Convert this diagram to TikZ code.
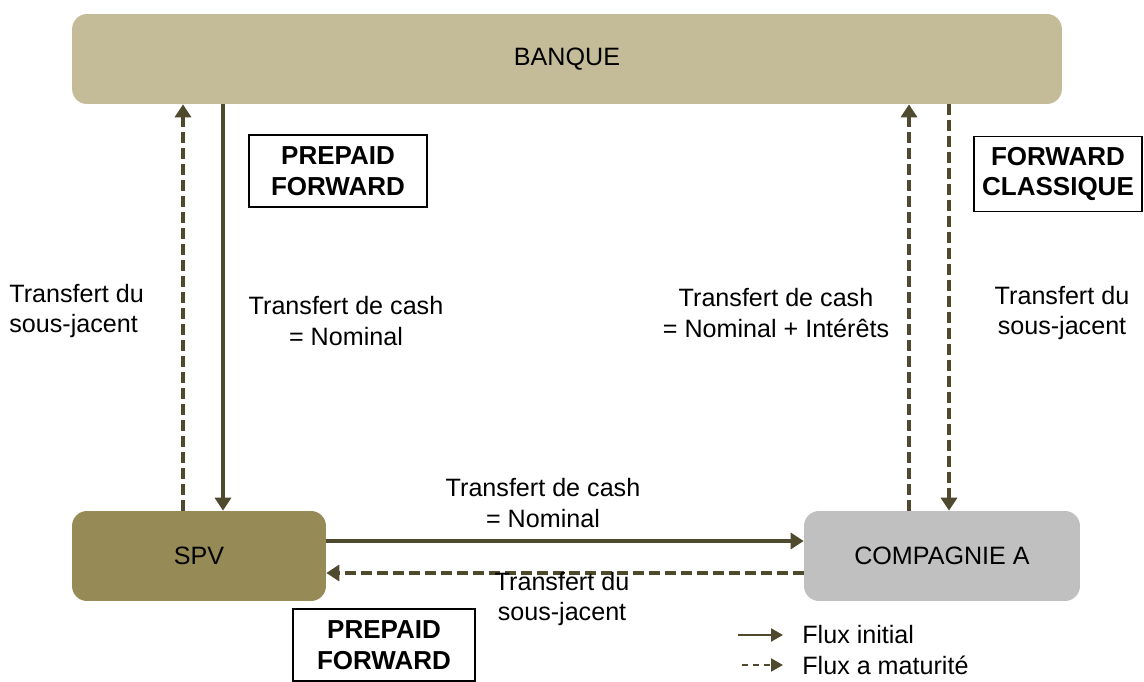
\documentclass[tikz,border=0pt]{standalone}
\usepackage{fontspec}
\setmainfont{Liberation Sans}
\usetikzlibrary{arrows.meta,positioning,calc}
\definecolor{banquecol}{RGB}{196,188,152}
\definecolor{spvcol}{RGB}{150,138,86}
\definecolor{ciecol}{RGB}{192,192,192}
\definecolor{flux}{RGB}{79,74,46}
\tikzstyle{every node}+=[font=\fontsize{14.3}{17.2}\selectfont]
\tikzstyle{party}=[rounded corners=0.3cm,inner sep=0pt,minimum height=1.8cm]
\tikzstyle{dealbox}=[draw,line width=0.8pt,font=\fontsize{14.8}{17.5}\selectfont\bfseries,align=center,inner sep=0pt]
\tikzstyle{lbl}=[align=center,inner sep=0pt]
\tikzstyle{flowinit}=[flux,line width=2.1pt,-{Triangle[length=0.26cm,width=0.32cm]}]
\tikzstyle{flowmat}=[flowinit,dash pattern=on 0.22cm off 0.1cm]
\tikzstyle{leginit}=[flux,line width=1.3pt,-{Triangle[length=0.24cm,width=0.26cm]}]
\tikzstyle{legmat}=[leginit,dash pattern=on 0.12cm off 0.1cm]

\begin{document}
\begin{tikzpicture}[x=0.02cm,y=-0.02cm]
\useasboundingbox (0,0) rectangle (1144,682);

\node[party,fill=banquecol,minimum width=19.8cm] (banque) at (567,59) {BANQUE};
\node[party,fill=spvcol,minimum width=5.08cm] (spv) at (199,556) {SPV};
\node[party,fill=ciecol,minimum width=5.52cm] (cie) at (942,556) {COMPAGNIE A};

% points where the flows leave the boxes
\coordinate (s1) at ([xshift=-0.32cm]spv.north);
\coordinate (s2) at ([xshift=0.48cm]spv.north);
\coordinate (c1) at ([xshift=-0.66cm]cie.north);
\coordinate (c2) at ([xshift=0.14cm]cie.north);
\coordinate (s3) at ([yshift=0.3cm]spv.east);
\coordinate (s4) at ([yshift=-0.34cm]spv.east);

\draw[flowmat] (s1) -- (s1 |- banque.south);
\draw[flowinit] (s2 |- banque.south) -- (s2);
\draw[flowmat] (c1) -- (c1 |- banque.south);
\draw[flowmat] (c2 |- banque.south) -- (c2);
\draw[flowinit] (s3) -- (s3 -| cie.west);
\draw[flowmat] (s4 -| cie.west) -- (s4);

\node[lbl,align=left,anchor=west] (l1) at (9,311) {Transfert du\\sous-jacent};
\node[lbl] (l2) at (346,321) {Transfert de cash\\= Nominal};
\node[lbl] (l3) at (776,313) {Transfert de cash\\= Nominal + Intérêts};
\node[lbl] (l4) at (1062,313) {Transfert du\\sous-jacent};
\node[lbl] (l5) at (543,503) {Transfert de cash\\= Nominal};
\node[lbl] (l6) at (562,599) {Transfert du\\sous-jacent};

\node[dealbox,minimum width=3.56cm,minimum height=1.44cm] (pf1) at (338,171) {PREPAID\\FORWARD};
\node[dealbox,minimum width=3.36cm,minimum height=1.5cm] (fc) at (1058,174) {FORWARD\\CLASSIQUE};
\node[dealbox,minimum width=3.64cm,minimum height=1.44cm] (pf2) at (384,645) {PREPAID\\FORWARD};

% legende
\node[lbl,anchor=west] (leg1) at (802,635) {Flux initial};
\node[lbl,anchor=west] (leg2) at (802,665) {Flux a maturité};
\draw[leginit] ([xshift=-1.28cm]leg1.west) -- ([xshift=-0.38cm]leg1.west);
\draw[legmat] ([xshift=-1.2cm]leg2.west) -- ([xshift=-0.38cm]leg2.west);
\end{tikzpicture}
\end{document}
